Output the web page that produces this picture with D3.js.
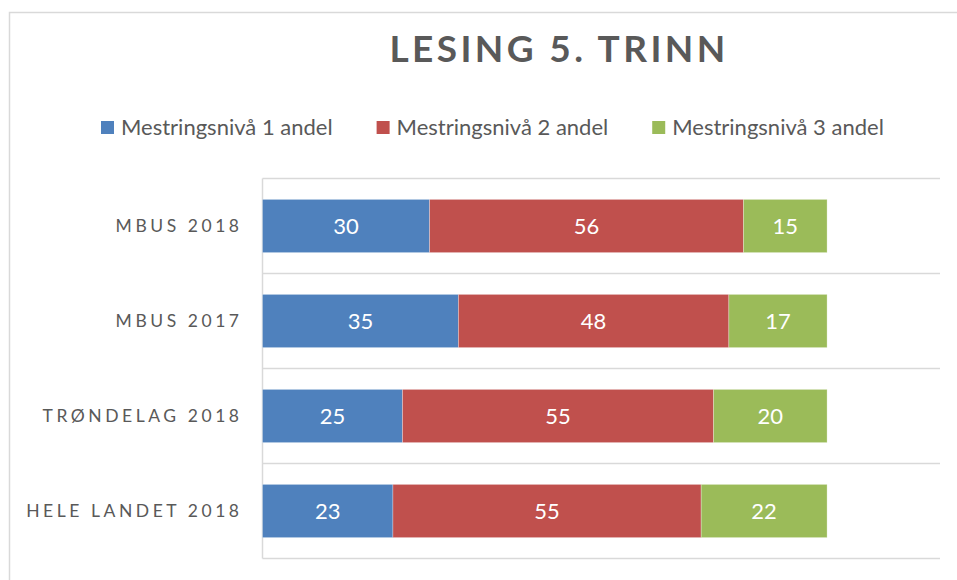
<!DOCTYPE html>
<html>
<head>
<meta charset="utf-8">
<script src="https://cdn.jsdelivr.net/npm/d3@7"></script>
<style>
  html, body { margin: 0; padding: 0; background: #fff; }
  svg { display: block; }
</style>
</head>
<body>
<svg id="chart" width="957" height="580"></svg>
<script>
const title = "LESING 5. TRINN";
const categories = ["MBUS 2018", "MBUS 2017", "TRØNDELAG 2018", "HELE LANDET 2018"];
const seriesNames = ["Mestringsnivå 1 andel", "Mestringsnivå 2 andel", "Mestringsnivå 3 andel"];
const level1 = [29.6, 34.7, 24.8, 23.1];
const level2 = [55.6, 47.9, 55.1, 54.6];
const level3 = [14.8, 17.4, 20.1, 22.3];
const colors = ["#4F81BD", "#C0504D", "#9BBB59"];

(function () {
const svg = d3.select("#chart");
const font = "Lato, 'Open Sans', sans-serif";
const textColor = "#595959";

// outer chart border
svg.append("rect").attr("x", 9.5).attr("y", 12.5).attr("width", 970).attr("height", 620)
  .attr("fill", "#fff").attr("stroke", "#d9d9d9").attr("stroke-width", 1.5);

// title
svg.append("text").text(title)
  .attr("x", 559).attr("y", 62)
  .attr("text-anchor", "middle")
  .attr("font-family", font).attr("font-weight", "bold")
  .attr("font-size", 37).attr("letter-spacing", 3.4)
  .attr("fill", textColor);

// plot area
const pL = 262.5, pR = 940, pT = 178.5, pB = 558.5;
const x = d3.scaleLinear().domain([0, 120]).range([pL, pR]);
const y = d3.scaleBand().domain(categories).range([pT, pB]).paddingInner(0.44).paddingOuter(0.22);

// gridlines at category boundaries
const step = y.step();
const bounds = d3.range(categories.length + 1).map(i => pT + i * step);
svg.append("g").selectAll("line").data(bounds).join("line")
  .attr("x1", pL).attr("x2", pR)
  .attr("y1", d => d).attr("y2", d => d)
  .attr("stroke", "#d9d9d9").attr("stroke-width", 1.5);

// vertical category axis line
svg.append("line").attr("x1", pL).attr("x2", pL).attr("y1", pT).attr("y2", pB)
  .attr("stroke", "#d9d9d9").attr("stroke-width", 1.5);

// stacked data
const rows = categories.map((c, i) => ({cat: c, v: [level1[i], level2[i], level3[i]]}));
const segs = [];
rows.forEach(r => {
  let acc = 0;
  r.v.forEach((v, k) => { segs.push({cat: r.cat, k, x0: acc, x1: acc + v, v}); acc += v; });
});

const g = svg.append("g");
g.selectAll("rect").data(segs).join("rect")
  .attr("x", d => x(d.x0)).attr("width", d => x(d.x1) - x(d.x0))
  .attr("y", d => y(d.cat)).attr("height", y.bandwidth())
  .attr("fill", d => colors[d.k])
  .attr("stroke", "rgba(255,255,255,0.35)").attr("stroke-width", 0.8);

g.selectAll("text").data(segs).join("text")
  .text(d => d3.format(".0f")(d.v))
  .attr("x", d => (x(d.x0) + x(d.x1)) / 2)
  .attr("y", d => y(d.cat) + y.bandwidth() / 2)
  .attr("dy", "0.36em")
  .attr("text-anchor", "middle")
  .attr("font-family", font).attr("font-size", 22)
  .attr("fill", "#fff");

// category labels
const ls = 3.55;
svg.append("g").selectAll("text").data(categories).join("text")
  .text(d => d)
  .attr("x", 239 + ls)
  .attr("y", d => y(d) + y.bandwidth() / 2)
  .attr("dy", "0.36em")
  .attr("text-anchor", "end")
  .attr("font-family", font).attr("font-size", 17.5)
  .attr("letter-spacing", ls)
  .attr("fill", textColor);

// legend
const legend = svg.append("g");
const items = legend.selectAll("g").data(seriesNames).join("g");
items.append("rect").attr("width", 13).attr("height", 13).attr("y", 121)
  .attr("fill", (d, i) => colors[i]);
items.append("text").text(d => d)
  .attr("x", 20).attr("y", 134.5)
  .attr("font-family", font).attr("font-size", 22)
  .attr("fill", textColor);
const widths = [];
items.each(function() { widths.push(this.getBBox().width); });
const gap = 44;
let cx = 101;
items.attr("transform", (d, i) => { const t = `translate(${cx},0)`; cx += widths[i] + gap; return t; });
})();
</script>
</body>
</html>
